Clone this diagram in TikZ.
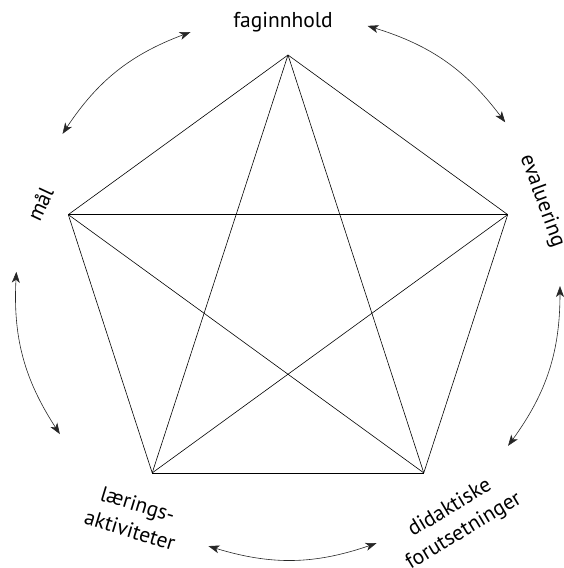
\documentclass[tikz,border=0pt]{standalone}
\usepackage{fontspec}
\setmainfont{PT Sans}
\usetikzlibrary{arrows.meta}

\begin{document}
\begin{tikzpicture}[
        x=1pt, y=1pt,
        every node/.style={
            align=center,
            inner sep=0pt,
            font=\fontsize{21.5}{27}\selectfont
        },
        side/.style={
            draw,
            line width=0.6pt
        },
        link/.style={
            draw,
            black!85,
            line width=0.6pt,
            {Stealth[length=11pt,width=8pt,inset=3pt]}-{Stealth[length=11pt,width=8pt,inset=3pt]}
        }
    ]
    % ramme
    \useasboundingbox (-288,-282) rectangle (276,286);
    % hjørner i femkanten
    \foreach \name/\ang in {fag/90, eval/18, did/-54, lar/-126, maal/162}
        \coordinate (\name) at (\ang:231);
    % sider og diagonaler
    \foreach \a/\b in {fag/eval, eval/did, did/lar, lar/maal, maal/fag,
                       fag/did, fag/lar, eval/lar, eval/maal, did/maal}
        \path[side] (\a) -- (\b);
    % tekster
    \node (tfag) at (-5,264) {faginnhold};
    \node[rotate=-70] (teval) at (254,85) {evaluering};
    \node[rotate=31] (tdid) at (169,-234) {didaktiske\\forutsetninger};
    \node[rotate=-17] (tlar) at (-154,-231) {lærings-\\aktiviteter};
    \node[rotate=65] (tmaal) at (-248,82) {mål};
    % endepunkter for pilene
    \foreach \name/\ang in {a1/111, a2/146, b1/37, b2/73, c1/-36, c2/0,
                            d1/-107, d2/-71, e1/177, e2/213}
        \coordinate (\name) at (\ang:272);
    % piler mellom tekstene
    \path[link] (a1) to[bend right=18] (a2);
    \path[link] (b1) to[bend right=18] (b2);
    \path[link] (c1) to[bend right=18] (c2);
    \path[link] (d1) to[bend right=18] (d2);
    \path[link] (e1) to[bend right=18] (e2);
\end{tikzpicture}
\end{document}
